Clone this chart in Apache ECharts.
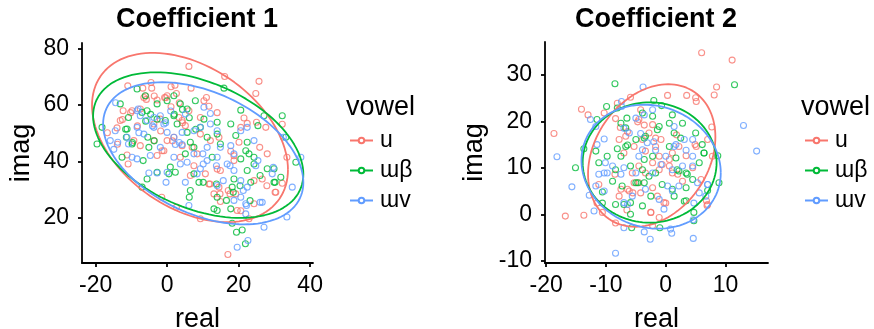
<!DOCTYPE html>
<html>
<head>
<meta charset="UTF-8">
<title>Coefficient 1 / 2</title>
<script src="https://cdn.jsdelivr.net/npm/echarts@6/dist/echarts.min.js"></script>
<style>
  html, body{ margin:0; padding:0; background:#fff; }
  #chart{ width:874px; height:329px; }
</style>
</head>
<body>
<div id="chart"></div>
<script>
// groups and colours
var vowels = ['u', 'ɯβ', 'ɯv'];
var colors = ['#F8766D', '#00BA38', '#619CFF'];

// tick labels
var c1XTicks = [-20, 0, 20, 40];
var c1YTicks = [20, 40, 60, 80];
var c2XTicks = [-20, -10, 0, 10];
var c2YTicks = [-10, 0, 10, 20, 30];

// Coefficient 1 points [real, imag]
var c1U = [[6.1,73.7],[16.1,70.1],[25.7,68.4],[24.8,64.1],[-11,66.8],[-4.5,68],[-6.8,66],[-4.3,66],[1.1,66.5],[2.2,67],
  [6.7,66],[17,7],[9.3,19.7],[2.6,23.8],[-1.5,27.3],[30.4,29.1],[32.2,32.3],[32.2,53.2],[33.5,41.5],[22.9,19.7],
  [24.3,25],[20.6,22.5],[-13.1,54.5],[-12.3,58],[-14,51.9],[-11.2,42.3],[-10.9,39.1],[-9.8,58],[-7.5,58.6],[-6.5,62.7],
  [-5.8,62],[-2.8,61.8],[-0.7,62.7],[0,63.3],[2.6,64.1],[1.1,59.4],[4.2,54.5],[5.1,52.7],[4.2,45.6],[7,45],
  [9.3,49.7],[11,62.7],[11.7,59.6],[14,57.3],[14.5,48.6],[17.8,43.6],[18.7,40.3],[20.6,52.1],[21.5,55.4],[22.4,53.5],
  [25,53.9],[25.9,45],[27.6,52.1],[28,42.7],[24.3,33.2],[26.6,33.8],[14.9,36.8],[11.7,32],[13.1,28.5],[14.5,30.9],
  [17.1,29.7],[19.2,28.5],[14.9,25.8],[19.6,22.6],[10.7,35.6],[7.5,38.5],[6.5,35],[0,47.4],[1.9,48.6],[-1.4,43.8],
  [-3.7,47.4],[-2.8,42.1],[-0.9,43.8],[-9.3,47.4],[-7.5,45.6],[-3.7,53.3],[-1.9,55],[3.3,55.6],[6.1,58],[9.3,55.6],
  [10.3,61.5],[8.4,42.7],[12.1,47.4],[14,37.3],[18.7,42],[20.1,46.8],[3.7,41.5],
  [-6,63.2],[-3.6,63.2],[-0.4,62.6],[3.4,60.8],[-12.5,54.9],[-10.2,57.3],[-8.3,52.6],[-1.8,50.8],[1.5,47.3],[4.3,53.7],
  [-16.7,50.2],[-13.9,46.1],[12,32],[14.8,28.5],[17.6,28.5],[27.9,31.4],[30.2,29.1]];
var c1B = [[-19.6,46.2],[-18.2,52.1],[-8.4,65.7],[-6.1,63.3],[1.9,63.3],[3.7,60.4],[7.9,61.5],[15.9,66],[20.6,58.2],[27.1,56.2],
  [32.2,56.2],[33.2,48.6],[36,39.7],[29.9,37.4],[31.8,34.4],[29.9,32.6],[23.4,32.6],[22.4,36.8],[22.9,42.7],[20.6,40.9],
  [24.3,39.1],[18.7,33.8],[18.2,30.9],[16.6,26.2],[17.8,23.2],[18.2,18.1],[19.4,14.9],[21,15.7],[21.9,10.8],[13.1,23.2],
  [14,22.6],[14,27.3],[14.9,46.2],[17.8,53.3],[14,53.9],[14,49.7],[10.3,55],[7.5,45],[6.5,46.8],[7.5,35.6],
  [8.9,32.6],[6.5,29.7],[6.2,27.3],[0.9,38],[2.3,36.2],[0.5,35.6],[-5.6,33.8],[-2.8,36.2],[-6.7,40.3],[-5.4,48.6],
  [-5.1,45],[-13.1,60.4],[-10.8,55.6],[-11.2,51.5],[-11.4,48.6],[-9.8,46.2],[-12.6,41.5],[-7,30.9],[-7,57.4],[-5.6,58],
  [-2.8,55],[-0.5,54.5],[1.9,56.2],[2.8,53.3],[5.6,50.3],[5.1,42.7],[9.3,52.1],[11.2,48.6],[12.6,41.5],[19.2,49.2],
  [22,43.8],[24.3,41.5],[28,37.4],[25.4,52.7],[22.4,46.8],[-2.8,60.4],[0,61.5],[5.6,58.6],
  [-4.6,56.7],[-6,54.3],[2,56.7],[4.3,58.4],[6.2,55.5],[-3.6,47.3],[-11.6,51.4],[-9.7,46.7],[8,51.4],[10.1,32.6],
  [13.8,32],[18.5,29.1],[20.4,31.4],[23.2,26.1],[26,35],[30.2,32.6]];
var c1V = [[-14.5,50.9],[-13.8,46.8],[-11.2,48.6],[-8.4,58],[-7.5,56.2],[-5.6,54.5],[-3.7,55.6],[-1.9,56.2],[-0.9,53.3],[0,50.3],
  [1.9,48.6],[-5.1,35.9],[-2.8,35.9],[-0.3,32.6],[-8.4,40.9],[-4.7,42.1],[0,36.2],[3.7,39.1],[5.1,32.6],[6.1,24.4],
  [9.3,37.4],[10,42.7],[10.3,59.2],[12.1,57],[14.9,45],[16.8,39.1],[18.7,36.8],[20.6,33.2],[22.4,30.9],[22,25],
  [22,21.4],[19.6,9.6],[22.6,12],[27.1,16.7],[26.6,25.5],[29.4,35.6],[32.5,48.6],[33.5,20.3],[35,30.9],[37.4,41.5],
  [25.4,40.3],[24.3,47.4],[22.4,52.1],[20.6,50.9],[17.8,45.6],[14,41.5],[11.2,40.3],[7.5,42.7],[5.6,39.7],[1.9,41.5],
  [-1.9,45],[-3.7,52.1],[-6.5,49.7],[-8.4,52.1],[-9.8,41.5],[-10.8,46.2],[-8.1,58.6],[9.3,52.1],[12.1,53.3],[14,50.9],
  [7.5,50.9],[11.2,45],[18.7,42.7],[15.7,33.2],[14,31.5],[18.7,26.2],[20.6,27.3],[24.8,38.5],[8.4,35.6],[4.2,46],
  [2.3,46],[4.2,50.3],[5.1,56.8],[-15.9,47.4],
  [-14.4,60.8],[-4.1,52.6],[-0.4,53.7],[3.4,46.7],[-7.9,50.2],[1,57.9],[-14.9,44.3],[10.1,39.1],[13.8,38.5],[17.6,38.5],
  [21.3,29.7],[22.2,24.4],[26,25.5],[29.7,37.9]];

// Coefficient 2 points [real, imag]
var c2U = [[6,34.8],[11.1,33.2],[-18.7,17.4],[-16.8,-0.4],[-13.7,-0.2],[-14.1,22.6],[-13,21.4],[-10.3,21.8],[-5.9,25.2],[0.3,25.6],
  [3.5,25.6],[5,25.1],[5.1,24.3],[8.5,27.4],[8.1,25.7],[7.7,18.8],[7,16.1],[6.8,2.9],[6.9,1.9],[4.9,15],
  [3.4,12.6],[1.8,17.1],[2.2,14.6],[-0.8,16.1],[-1.7,16.4],[-2.2,19.3],[-4.5,20.4],[-4.2,22.5],[-8.1,23.9],[-7.6,18.7],
  [-7,13.2],[-8.5,8.6],[-5.5,4.6],[-6.1,5],[-7.8,3.9],[-8.4,-1.9],[-6.5,0.9],[-2.5,0.4],[-1.1,-0.7],[-2.2,-2.5],
  [0,2.4],[0.6,11.8],[-1.1,12.5],[-0.6,10.7],[1.1,8.9],[0.6,10.4],[-3.4,13.6],[-3.9,16.1],[-2.8,17.5],[-1.7,14.6],
  [-4.5,10.4],[-5.6,8.9],[-4.5,6.8],[-2.2,5.7],[-1.4,3.9],[-11.2,6.4],[-10.6,0.4],[-11.5,2.4],[2.8,7.1],[4.5,10],
  [2,8.6],[5.1,14.6],[7.8,12.5],[-2.2,11.1],[-1.1,9.6],[1.1,13.2],[-5.3,14.6],[-6.7,16.8],[-7.8,16.1],[-3.4,8.9],
  [-7.5,5.4],
  [-5.3,6.8],[-6.4,5.4],[-4.2,4.6],[-2.5,0.4],[5.9,7.5],[7,2.1],[-0.3,2.5],[-8.4,20.6],[-4.7,19.9],[-3.6,19.2],
  [-6.4,17.8]];
var c2B = [[-8.5,28.1],[11.5,27.9],[-15.1,10],[-13.7,14.1],[-11.7,13.6],[-9.9,23.2],[-8.1,22.9],[-6.5,20.7],[-2,24.5],[-0.7,23.4],
  [1.1,21.4],[2.8,19.6],[2.5,16.4],[5,17.5],[6.1,15],[6.4,13.2],[8.7,12.6],[8.9,6.8],[7,5.1],[3.4,2.9],
  [4.7,0.4],[-1,-2.9],[-5.7,-2.9],[-5.9,0],[-7,2.1],[-8.4,2.1],[-10.6,2.4],[-10.6,4.8],[-8.9,7.1],[-8.4,9.6],
  [-7.5,12.5],[-8.1,14.1],[-6.7,14.6],[-5.9,10.4],[-5,6.8],[-3.9,9.6],[-3.6,11.8],[-2.2,12.5],[-1.4,18.2],[-1.1,18.9],
  [-2.2,21.1],[-3.9,21.8],[-5,16.1],[-3.4,16.8],[0.6,14.6],[1.7,12.1],[2.2,9.3],[3.4,8.9],[3.4,5.7],[1.1,5.4],
  [-0.6,6.4],[-2.8,8.2],[-3.9,1.8],[-7.3,6.1],[-9.8,12.5],[-11.2,11.1],[4.5,7.5],[5.6,11.1],[1.4,17.5],[0.6,19.6],
  [-11.5,20.4],[-6.7,18.6],[-1.7,8.9],
  [-4.7,6.8],[-3.6,6.8],[-5.9,2.5],[-2.5,3.9],[1.4,3.9],[3.1,2.8],[4.7,-1.4],[3.6,8.6],[1.9,9.6],[6.4,13.2],
  [-7.5,19.6],[-3.6,16.4],[-6.4,14.9]];
var c2V = [[-3.8,27.4],[-7.4,24.3],[-18.2,12.4],[-15.7,5.9],[-12,0.7],[-12.8,4.1],[-11.7,18.9],[-12.6,20.4],[-10.3,16.2],[-11.5,15],
  [13,19.1],[15.2,13.6],[-8.4,-8.4],[-2.6,-5.4],[4.6,-5.2],[4.6,-1.2],[1,-4.1],[-3.6,-3.8],[-7,-2.9],[-0.3,1.1],
  [4.7,2.4],[5.6,4.6],[7,6.4],[4.5,12.5],[4.5,16.1],[3.4,13.8],[1.4,18.9],[1.4,14.6],[0,12.5],[-1.7,13.8],
  [-3.1,15.4],[-3.9,13.9],[-6.1,17.5],[-7.4,23.2],[-5,20.7],[-2.2,22.5],[-10.1,11.1],[-10.3,8.9],[-8.9,10.4],[-11.2,8.6],
  [-11.7,6.1],[-7.5,8.6],[-7,10],[-5,8.9],[-4.5,12.5],[-2.2,8.9],[0.3,6.1],[1.1,5],[2.2,6.1],[2.8,10.4],
  [4.5,10.4],[1.1,9.6],[-0.8,10.7],[-3.4,5.4],[-5.6,3.9],[-6.4,2.1],[-1.1,3.2],[1.7,15],[3.1,16.1],[6.7,3.9],
  [-9.8,8.9],[-10.3,5],[-7,2.5],[0.8,-3.2],[5.3,6.8],[7,6.4],[-7,18.5],[-4.2,17.4],[-2,15.6],[-3.6,21.4]];

// fitted ellipses: [centre real, centre imag, half width, half height, correlation]
var c1Ellipses = [[6.4,48.5,27.4,30,-0.38],[8.7,45.8,29.4,25.8,-0.4],[10.1,42.9,28,25.2,-0.41]];
var c2Ellipses = [[-2.35,12.65,10.65,15.35,0.26],[-2.7,11.15,11.2,12.95,0],[-2.45,10.25,11.65,13.35,-0.1]];

var FONT = "'Liberation Sans', Arial, 'DejaVu Sans', sans-serif";

function ellipsePath(e){
	var pts = [];
	var s = Math.sqrt(1 - e[4]*e[4]);
	for(var i=0;i<=120;i++){
		var t = i/120*2*Math.PI;
		pts.push([e[0] + e[2]*Math.cos(t), e[1] + e[3]*(e[4]*Math.cos(t) - s*Math.sin(t))]);
	}
	return pts;
}

function makeAxis(idx, min, max, ticks, name, gap, isY){
	return {
		type:'value', gridIndex:idx, min:min, max:max,
		name:name, nameLocation:'middle', nameGap:gap,
		nameTextStyle:{ fontFamily:FONT, fontSize:27, color:'#000' },
		splitLine:{ show:false },
		axisLine:{ show:true, onZero:false, lineStyle:{ color:'#000', width:1.8 } },
		axisTick:{ show:true, length:4, customValues:ticks, lineStyle:{ color:'#000', width:1.8 } },
		axisLabel:{ customValues:ticks, fontFamily:FONT, fontSize:23, color:'#000', margin: isY ? 13 : 11 }
	};
}

var chart = echarts.init(document.getElementById('chart'), null, { renderer:'canvas' });

var series = [];
var panels = [
	{ pts:[c1U, c1B, c1V], ell:c1Ellipses },
	{ pts:[c2U, c2B, c2V], ell:c2Ellipses }
];
// ellipse lines first so the legend takes their line+circle icon
panels.forEach(function(p, pi){
	for(var g=0; g<3; g++){
		series.push({
			name:vowels[g], type:'line', xAxisIndex:pi, yAxisIndex:pi,
			data:ellipsePath(p.ell[g]), showSymbol:false, symbol:'emptyCircle', symbolSize:6,
			color:colors[g], lineStyle:{ width:1.8, color:colors[g] }, z:3, silent:true, animation:false
		});
	}
});
panels.forEach(function(p, pi){
	for(var g=0; g<3; g++){
		series.push({
			name:vowels[g], type:'scatter', xAxisIndex:pi, yAxisIndex:pi,
			data:p.pts[g], symbol:'circle', symbolSize:6,
			itemStyle:{ color:'rgba(0,0,0,0)', borderColor:colors[g], borderWidth:1.1 },
			z:2, silent:true, animation:false
		});
	}
});

var legendBase = {
	data:vowels, orient:'vertical', top:129, padding:0, itemWidth:23, itemHeight:7, itemGap:7,
	textStyle:{ fontFamily:FONT, fontSize:23, color:'#000', padding:[0,0,0,2] }, selectedMode:false
};

var option = {
	backgroundColor:'#fff',
	animation:false,
	title:[
		{ text:'Coefficient 1', left:197, top:6, textAlign:'center', padding:0, textStyle:{ fontFamily:FONT, fontSize:27, fontWeight:'bold', color:'#000' } },
		{ text:'Coefficient 2', left:656, top:6, textAlign:'center', padding:0, textStyle:{ fontFamily:FONT, fontSize:27, fontWeight:'bold', color:'#000' } },
		{ text:'vowel', left:346, top:94, padding:0, textStyle:{ fontFamily:FONT, fontSize:27, fontWeight:'normal', color:'#000' } },
		{ text:'vowel', left:801, top:94, padding:0, textStyle:{ fontFamily:FONT, fontSize:27, fontWeight:'normal', color:'#000' } }
	],
	legend:[
		Object.assign({}, legendBase, { left:349 }),
		Object.assign({}, legendBase, { left:804 })
	],
	grid:[
		{ left:82, top:43, width:231, height:220, outerBoundsMode:'none' },
		{ left:545, top:42, width:223, height:221, outerBoundsMode:'none' }
	],
	xAxis:[
		makeAxis(0, -23.8, 40.8, c1XTicks, 'real', 43, false),
		makeAxis(1, -20.2, 17.1, c2XTicks, 'real', 43, false)
	],
	yAxis:[
		makeAxis(0, 4, 82, c1YTicks, 'imag', 47, true),
		makeAxis(1, -10.5, 37.1, c2YTicks, 'imag', 57, true)
	],
	series:series
};
chart.setOption(option);
</script>
</body>
</html>
